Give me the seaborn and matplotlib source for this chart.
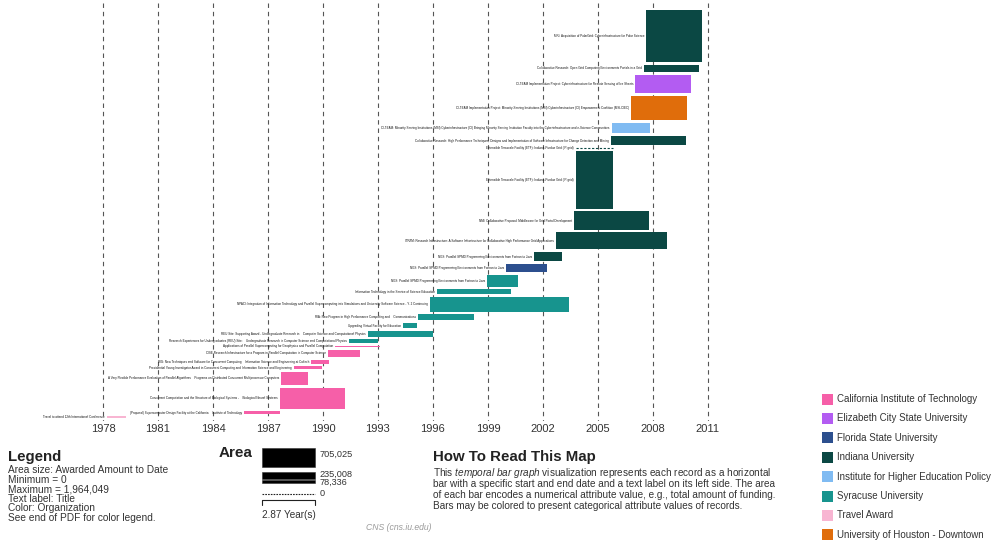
import numpy as np
import pandas as pd
import matplotlib.pyplot as plt
from matplotlib.patches import Rectangle
import seaborn as sns

W, H = 995, 542

# ---- data ----
years = list(range(1978, 2012, 3))

titles = [
    "MRI: Acquisition of PolarGrid: Cyberinfrastructure for Polar Science",
    "Collaborative Research: Open Grid Computing Environments Portals in a Grid",
    "CI-TEAM Implementation Project: Cyberinfrastructure for Remote Sensing of Ice Sheets",
    "CI-TEAM Implementation Project: Minority-Serving Institutions (MSI) Cyberinfrastructure (CI) Empowerment Coalition (MSI-CIEC)",
    "CI-TEAM: Minority Serving Institutions (MSI) Cyberinfrastructure (CI) Bringing Minority Serving Institution Faculty into the Cyberinfrastructure and e-Science Communities",
    "Collaborative Research: High Performance Techniques, Designs and Implementation of Software Infrastructure for Change Detection and Mining",
    "Extensible Terascale Facility (ETF): Indiana-Purdue Grid (IP-grid)",
    "Extensible Terascale Facility (ETF): Indiana-Purdue Grid (IP-grid)",
    "NMI: Collaborative Proposal: Middleware for Grid Portal Development",
    "ITR/IM: Research Infrastructure: A Software Infrastructure for Collaborative High Performance Grid Applications",
    "NGS: Parallel SPMD Programming Environments from Fortran to Java",
    "NGS: Parallel SPMD Programming Environments from Fortran to Java",
    "NGS: Parallel SPMD Programming Environments from Fortran to Java",
    "Information Technology in the Service of Science Education",
    "NPACI: Integration of Information Technology and Parallel Supercomputing into Simulations and University Software Science - Y. 2 Continuing",
    "RIA: New Program in High Performance Computing and    Communications",
    "Upgrading Virtual Facility for Education",
    "REU Site: Supporting Award - Undergraduate Research in    Computer Science and Computational Physics",
    "Research Experiences for Undergraduates (REU) Site:    Undergraduate Research in Computer Science and Computational Physics",
    "Applications of Parallel Supercomputing for Geophysics and Parallel Computation",
    "CISE Research Infrastructure for a Program in Parallel Computation in Computer Science",
    "RIG: New Techniques and Software for Concurrent Computing    Information Science and Engineering at Caltech",
    "Presidential Young Investigator Award in Concurrent Computing and Information Science and Engineering",
    "A Very Flexible Performance Evaluation of Parallel Algorithms    Programs on Distributed Concurrent Multiprocessor Computers",
    "Concurrent Computation and the Structure of Biological Systems -    Biological Neural Systems",
    "(Proposal) Supercomputer Design Facility at the California    Institute of Technology",
    "Travel to attend 12th International Conference",
]
orgs = [
    "Indiana University", "Indiana University", "Elizabeth City State University",
    "University of Houston - Downtown", "Institute for Higher Education Policy",
    "Indiana University", "Indiana University", "Indiana University",
    "Indiana University", "Indiana University", "Indiana University",
    "Florida State University", "Syracuse University", "Syracuse University",
    "Syracuse University", "Syracuse University", "Syracuse University",
    "Syracuse University", "Syracuse University",
    "California Institute of Technology", "California Institute of Technology",
    "California Institute of Technology", "California Institute of Technology",
    "California Institute of Technology", "California Institute of Technology",
    "California Institute of Technology", "Travel Award",
]
starts = [2007.62, 2007.5, 2007.05, 2006.8, 2005.75, 2005.7, 2003.8, 2003.8,
          2003.7, 2002.7, 2001.5, 2000.0, 1998.95, 1996.2, 1995.85, 1995.2,
          1994.35, 1992.45, 1991.4, 1990.65, 1990.25, 1989.35, 1988.4,
          1987.7, 1987.65, 1985.7, 1978.2]
ends = [2010.68, 2010.5, 2010.1, 2009.85, 2007.85, 2009.8, 2005.85, 2005.85,
        2007.8, 2008.75, 2003.05, 2002.2, 2000.65, 2000.25, 2003.4, 1998.25,
        1995.15, 1996.0, 1993.0, 1993.1, 1992.0, 1990.35, 1989.95,
        1989.2, 1991.2, 1987.65, 1979.25]
amounts = [1964049, 247000, 703000, 902000, 270000, 452000, 0, 1454000,
           922000, 1213000, 188000, 222000, 235000, 248000, 1350000, 210000,
           55000, 235000, 64000, 45000, 150000, 49000, 49000,
           240000, 916000, 58000, 10000]

org_names = [
    "California Institute of Technology", "Elizabeth City State University",
    "Florida State University", "Indiana University",
    "Institute for Higher Education Policy", "Syracuse University",
    "Travel Award", "University of Houston - Downtown",
]
org_colors = ["#f65fa8", "#b35cf2", "#2c4f8e", "#0b4844",
              "#80bbf2", "#17948e", "#f8b5d2", "#e06d0b"]

legend_amounts = [705025, 235008, 78336, 0]
legend_labels = ["705,025", "235,008", "78,336", "0"]
legend_span = 2.87

# bar height (px) per dollar per year, and gap between rows (px)
px_per_rate = 8.14e-5
row_gap = 2.8
px_per_year = 18.33

sns.set_theme(style="white")
plt.rcParams["font.family"] = ["Liberation Sans", "DejaVu Sans"]
plt.rcParams["mathtext.fontset"] = "custom"
plt.rcParams["mathtext.rm"] = "Liberation Sans"
plt.rcParams["mathtext.it"] = "Liberation Sans:italic"

df = pd.DataFrame({"title": titles, "org": orgs, "start": starts,
                   "end": ends, "amount": amounts})
df["dur"] = df["end"] - df["start"]
df["h"] = df["amount"] / df["dur"] * px_per_rate
tops = 10 + np.concatenate([[0], np.cumsum(df["h"].values + row_gap)[:-1]])
df["y"] = tops + df["h"] / 2
pal = dict(zip(org_names, org_colors))

fig = plt.figure(figsize=(W / 100, H / 100), dpi=100)


def box(x0, y0, x1, y1):
    return [x0 / W, 1 - y1 / H, (x1 - x0) / W, (y1 - y0) / H]


def fx(x):
    return x / W


def fy(y):
    return 1 - y / H


# ---- main temporal bar graph ----
ax = fig.add_axes(box(0, 3, 800, 421))
ax.set_xlim(1978 - 103 / px_per_year, 1978 + (800 - 103) / px_per_year)
ax.set_ylim(421, 3)
ax.vlines(years, 3, 421, colors="#555555", linestyles=(0, (4, 3.5)), lw=0.8, zorder=0)

solid = df[df["amount"] > 0]
ax.barh(solid["y"], solid["dur"], left=solid["start"],
        height=solid["h"].clip(lower=1.2), color=solid["org"].map(pal), lw=0, zorder=2)
zero = df[df["amount"] == 0]
ax.hlines(zero["y"], zero["start"], zero["end"], colors=zero["org"].map(pal).tolist(),
          linestyles=(0, (2, 1.5)), lw=0.8, zorder=2)
for r in df.itertuples():
    ax.text(r.start - 0.1, r.y, r.title, ha="right", va="center",
            fontsize=2.2, color="#111111", zorder=3)

ax.set_xticks(years)
ax.set_xticklabels([str(y) for y in years], fontsize=8, color="#333333")
ax.tick_params(axis="x", length=0, pad=2)
ax.set_yticks([])
sns.despine(ax=ax, left=True, bottom=True)

# ---- area legend ----
lax = fig.add_axes(box(250, 440, 370, 525))
lax.set_xlim(0, 120 / px_per_year)
lax.set_ylim(525, 440)
lax.axis("off")
lx0 = (262 - 250) / px_per_year
leg_centers = [457.5, 475.5, 481.5, 494]
leg_text_y = [454.5, 474.5, 482.8, 494]
for a, yc, lab, ty in zip(legend_amounts, leg_centers, legend_labels, leg_text_y):
    h = a / legend_span * px_per_rate
    if a > 0:
        lax.barh(yc, legend_span, left=lx0, height=h, color="black",
                 edgecolor="#333333", lw=0.4)
    else:
        lax.hlines(yc, lx0, lx0 + legend_span, colors="#222222",
                   linestyles=(0, (1.5, 1)), lw=0.8)
    lax.text(lx0 + legend_span + 0.25, ty, lab, fontsize=6.6, color="#333333",
             va="center", ha="left")
lax.plot([lx0, lx0, lx0 + legend_span, lx0 + legend_span], [505, 500, 500, 505],
         color="#222222", lw=0.8)
lax.text(lx0, 515, "2.87 Year(s)", fontsize=7.2, color="#333333", va="center")

fig.text(fx(219), fy(453), "Area", fontsize=11, fontweight="bold", color="#222222", va="center")

# ---- text legend ----
fig.text(fx(8), fy(457), "Legend", fontsize=10.8, fontweight="bold", color="#222222", va="center")
legend_lines = ["Area size: Awarded Amount to Date", "Minimum = 0",
                "Maximum = 1,964,049", "Text label: Title",
                "Color: Organization", "See end of PDF for color legend."]
for i, line in enumerate(legend_lines):
    fig.text(fx(8), fy(470 + i * 9.6), line, fontsize=7.3, color="#333333", va="center")

fig.text(fx(366), fy(527), "CNS (cns.iu.edu)", fontsize=6.2, style="italic",
         color="#9a9a9a", va="center")

# ---- how to read ----
fig.text(fx(433), fy(457), "How To Read This Map", fontsize=10.8, fontweight="bold",
         color="#222222", va="center")
para = [
    r"This $\mathit{temporal\ bar\ graph}$ visualization represents each record as a horizontal",
    "bar with a specific start and end date and a text label on its left side. The area",
    "of each bar encodes a numerical attribute value, e.g., total amount of funding.",
    "Bars may be colored to present categorical attribute values of records.",
]
for i, line in enumerate(para):
    fig.text(fx(433), fy(473.5 + i * 10.8), line, fontsize=7.2, color="#333333", va="center")

# ---- colour legend ----
for i, (name, col) in enumerate(zip(org_names, org_colors)):
    yc = 399 + i * 19.4
    fig.add_artist(Rectangle((fx(822), fy(yc + 5.5)), 11 / W, 11 / H,
                             transform=fig.transFigure, color=col, lw=0))
    fig.text(fx(837), fy(yc), name, fontsize=7.0, color="#333333", va="center")

fig.savefig("out.png", dpi=100)
